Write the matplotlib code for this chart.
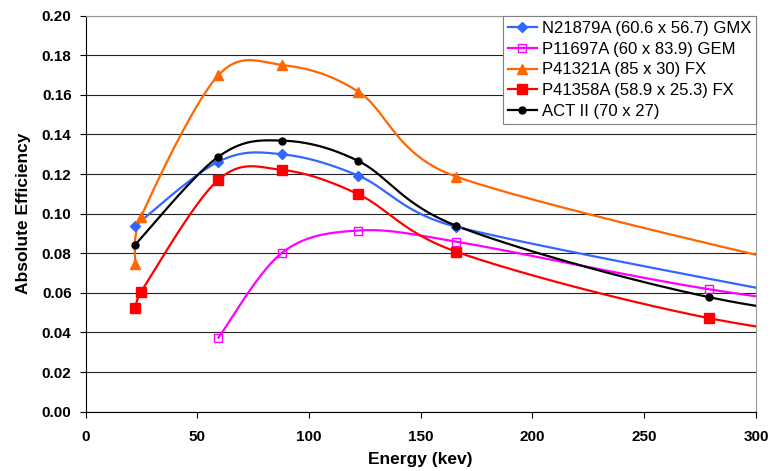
import numpy as np
import matplotlib
matplotlib.use("Agg")
import matplotlib.pyplot as plt

# ---- data ----
labels = ["N21879A (60.6 x 56.7) GMX", "P11697A (60 x 83.9) GEM",
          "P41321A (85 x 30) FX", "P41358A (58.9 x 25.3) FX", "ACT II (70 x 27)"]

blue_x = [22.1, 59.5, 88.0, 122.1, 165.9, 391.7]
blue_y = [0.0938, 0.1263, 0.1300, 0.1192, 0.0934, 0.043]

mag_x = [59.5, 88.0, 122.1, 165.9, 279.2, 391.7]
mag_y = [0.0374, 0.0803, 0.0915, 0.0859, 0.0618, 0.045]

orange_x = [22.1, 24.9, 59.5, 88.0, 122.1, 165.9, 391.7]
orange_y = [0.0745, 0.0985, 0.1700, 0.1751, 0.1616, 0.1187, 0.055]

red_x = [22.1, 24.9, 59.5, 88.0, 122.1, 165.9, 279.2, 391.7]
red_y = [0.0522, 0.0606, 0.1172, 0.1221, 0.1098, 0.0808, 0.0472, 0.030]

black_x = [22.1, 59.5, 88.0, 122.1, 165.9, 279.2, 391.7]
black_y = [0.0842, 0.1288, 0.1369, 0.1266, 0.0939, 0.0578, 0.040]

x_ticks = [0, 50, 100, 150, 200, 250, 300]
y_ticks = [0.00, 0.02, 0.04, 0.06, 0.08, 0.10, 0.12, 0.14, 0.16, 0.18, 0.20]

XMAX, YMAX = 300, 0.20

plt.rcParams['font.family'] = ['Liberation Sans', 'DejaVu Sans']

fig = plt.figure(figsize=(7.78, 4.71), dpi=100)
ax = fig.add_axes([0.1099, 0.1259, 0.8618, 0.8408])
AXW, AXH = 670.0, 396.0


def smooth(xs, ys, n=60):
    """Excel-like smoothed line: cubic Bezier, tangent |P(i+1)-P(i-1)|/6 capped at half the segment."""
    P = np.column_stack([np.asarray(xs) / XMAX * AXW, np.asarray(ys) / YMAX * AXH])
    out = []
    for i in range(len(P) - 1):
        p0, p3 = P[i], P[i + 1]
        pm = P[i - 1] if i > 0 else P[i]
        pp = P[i + 2] if i + 2 < len(P) else P[i + 1]
        dseg = np.linalg.norm(p3 - p0)
        v1 = (p3 - pm)
        v2 = (pp - p0)
        n1 = np.linalg.norm(v1)
        n2 = np.linalg.norm(v2)
        l1 = min(n1 / 6.0, dseg / 2.0)
        l2 = min(n2 / 6.0, dseg / 2.0)
        c1 = p0 + (v1 / n1 * l1 if n1 > 0 else 0)
        c2 = p3 - (v2 / n2 * l2 if n2 > 0 else 0)
        t = np.linspace(0, 1, n)[:, None]
        seg = (1 - t) ** 3 * p0 + 3 * (1 - t) ** 2 * t * c1 + 3 * (1 - t) * t ** 2 * c2 + t ** 3 * p3
        out.append(seg if i == 0 else seg[1:])
    S = np.vstack(out)
    return S[:, 0] * XMAX / AXW, S[:, 1] * YMAX / AXH


series = [
    (blue_x, blue_y, "#3366FF", dict(marker="D", ms=5, mfc="#3366FF", mec="#3366FF")),
    (mag_x, mag_y, "#FF00FF", dict(marker="s", ms=6, mfc="none", mec="#FF00FF", mew=1.0)),
    (orange_x, orange_y, "#FF6600", dict(marker="^", ms=7, mfc="#FF6600", mec="#FF6600")),
    (red_x, red_y, "#FF0000", dict(marker="s", ms=7.5, mfc="#FF0000", mec="#FF0000")),
    (black_x, black_y, "#000000", dict(marker="o", ms=5, mfc="#000000", mec="#000000")),
]

for (xs, ys, col, mk), lab in zip(series, labels):
    sx, sy = smooth(xs, ys)
    ax.plot(sx, sy, color=col, lw=1.6, zorder=3)
    ax.plot(xs, ys, ls="none", color=col, zorder=4, **mk)
    ax.plot([], [], color=col, lw=1.6, label=lab, **mk)

ax.set_xlim(0, XMAX)
ax.set_ylim(0, YMAX)
ax.set_xticks(x_ticks)
ax.set_yticks(y_ticks)
ax.set_xticklabels([str(v) for v in x_ticks], fontsize=11, fontweight="bold")
ax.set_yticklabels([f"{v:.2f}" for v in y_ticks], fontsize=11, fontweight="bold")
ax.tick_params(direction="out", length=4, width=0.8, color="black", pad=6)
ax.tick_params(axis="x", pad=9)
ax.yaxis.grid(True, color="#222222", lw=0.8, zorder=1)
ax.set_axisbelow(True)
for s in ["top", "right"]:
    ax.spines[s].set_color("#999999")
for s in ["left", "bottom"]:
    ax.spines[s].set_color("black")
    ax.spines[s].set_linewidth(0.8)

ax.set_xlabel("Energy (kev)", fontsize=12.5, fontweight="bold", labelpad=6)
ax.set_ylabel("Absolute Efficiency", fontsize=12.5, fontweight="bold", labelpad=8)

leg = ax.legend(loc="upper right", fontsize=12, frameon=True, fancybox=False,
                edgecolor="#808080", framealpha=1, borderaxespad=0,
                handlelength=1.7, handletextpad=0.3, labelspacing=0.35,
                borderpad=0.3)
leg.get_frame().set_linewidth(0.8)
leg.set_zorder(10)

fig.savefig("out.png", dpi=100)
